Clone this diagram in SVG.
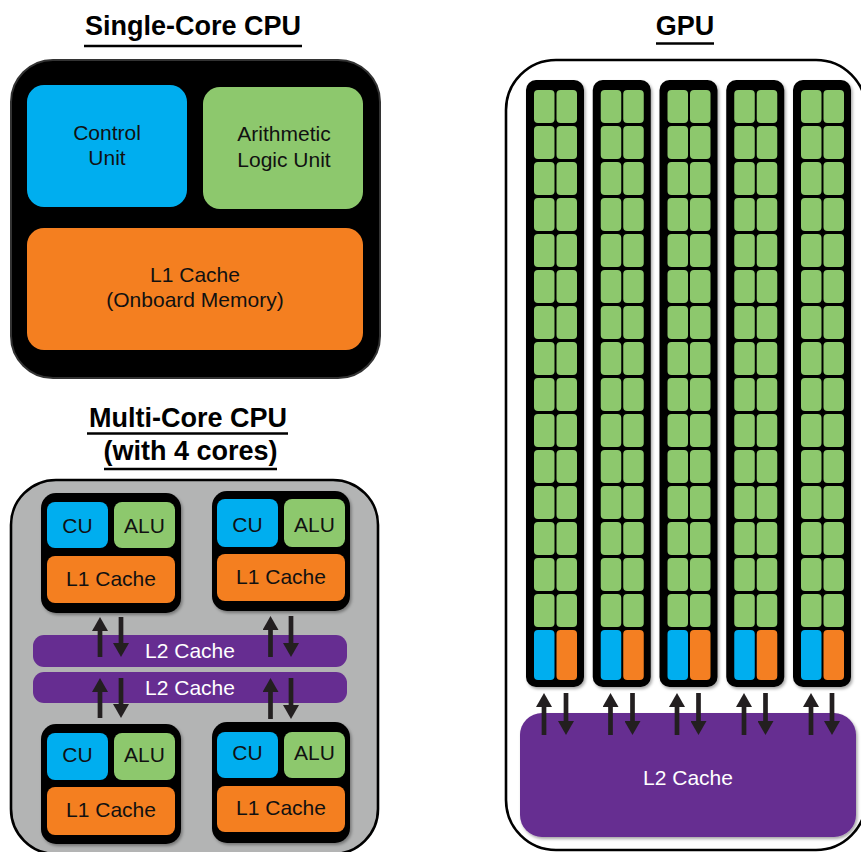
<svg xmlns="http://www.w3.org/2000/svg" xmlns:xlink="http://www.w3.org/1999/xlink" width="861" height="852" viewBox="0 0 861 852">
<style>
.title{font-family:"Liberation Sans",Arial,sans-serif;font-weight:bold;font-size:27px;fill:#000;text-anchor:middle}
.lbl{font-family:"Liberation Sans",Arial,sans-serif;font-size:21px;fill:#111;text-anchor:middle}
.wl{font-family:"Liberation Sans",Arial,sans-serif;font-size:21px;fill:#fff;text-anchor:middle}
.ul{stroke:#000;stroke-width:2.6}
.blk{fill:#000}
.cu{fill:#00AEEF}
.alu{fill:#8DC86D}
.l1{fill:#F47F20}
.l2{fill:#662D91}
.arr{stroke:#231F20;stroke-width:4.7;fill:none;marker-end:url(#ah)}
</style>
<defs>
<marker id="ah" markerUnits="userSpaceOnUse" markerWidth="14" markerHeight="16" viewBox="0 0 14 16" refX="0" refY="8" orient="auto">
<path d="M0,0 L14,8 L0,16 z" fill="#231F20"/>
</marker>
<filter id="sh" x="-10%" y="-10%" width="130%" height="130%">
<feDropShadow dx="1.5" dy="2" stdDeviation="1.5" flood-color="#000" flood-opacity="0.35"/>
</filter>
<g id="gcol">
<rect x="0" y="0" width="58" height="607" rx="10" class="blk"/>
<g class="alu">
<rect x="8" y="10" width="20.5" height="33" rx="4"/><rect x="30.5" y="10" width="20.5" height="33" rx="4"/>
<rect x="8" y="46" width="20.5" height="33" rx="4"/><rect x="30.5" y="46" width="20.5" height="33" rx="4"/>
<rect x="8" y="82" width="20.5" height="33" rx="4"/><rect x="30.5" y="82" width="20.5" height="33" rx="4"/>
<rect x="8" y="118" width="20.5" height="33" rx="4"/><rect x="30.5" y="118" width="20.5" height="33" rx="4"/>
<rect x="8" y="154" width="20.5" height="33" rx="4"/><rect x="30.5" y="154" width="20.5" height="33" rx="4"/>
<rect x="8" y="190" width="20.5" height="33" rx="4"/><rect x="30.5" y="190" width="20.5" height="33" rx="4"/>
<rect x="8" y="226" width="20.5" height="33" rx="4"/><rect x="30.5" y="226" width="20.5" height="33" rx="4"/>
<rect x="8" y="262" width="20.5" height="33" rx="4"/><rect x="30.5" y="262" width="20.5" height="33" rx="4"/>
<rect x="8" y="298" width="20.5" height="33" rx="4"/><rect x="30.5" y="298" width="20.5" height="33" rx="4"/>
<rect x="8" y="334" width="20.5" height="33" rx="4"/><rect x="30.5" y="334" width="20.5" height="33" rx="4"/>
<rect x="8" y="370" width="20.5" height="33" rx="4"/><rect x="30.5" y="370" width="20.5" height="33" rx="4"/>
<rect x="8" y="406" width="20.5" height="33" rx="4"/><rect x="30.5" y="406" width="20.5" height="33" rx="4"/>
<rect x="8" y="442" width="20.5" height="33" rx="4"/><rect x="30.5" y="442" width="20.5" height="33" rx="4"/>
<rect x="8" y="478" width="20.5" height="33" rx="4"/><rect x="30.5" y="478" width="20.5" height="33" rx="4"/>
<rect x="8" y="514" width="20.5" height="33" rx="4"/><rect x="30.5" y="514" width="20.5" height="33" rx="4"/>
</g>
<rect x="8" y="550" width="20.5" height="50" rx="4" class="cu"/>
<rect x="30.5" y="550" width="20.5" height="50" rx="4" class="l1"/>
</g>
</defs>
<rect width="861" height="852" fill="#fff"/>

<!-- Titles -->
<g id="titles">
<text class="title" x="193" y="35">Single-Core CPU</text>
<line class="ul" x1="84" y1="46" x2="302" y2="46"/>
<text class="title" x="188" y="427">Multi-Core CPU</text>
<line class="ul" x1="87" y1="433.5" x2="288" y2="433.5"/>
<text class="title" x="190.5" y="460">(with 4 cores)</text>
<line class="ul" x1="104" y1="469" x2="277" y2="469"/>
<text class="title" x="685" y="35">GPU</text>
<line class="ul" x1="656" y1="43.5" x2="714" y2="43.5"/>
</g>

<!-- Single-core CPU -->
<g id="single-core">
<rect x="11" y="60" width="369" height="318" rx="42" fill="#000" stroke="#333" stroke-width="2"/>
<g id="sc-control-unit">
<rect x="27" y="85" width="160" height="122" rx="17" class="cu"/>
<text class="lbl" x="107" y="140">Control</text>
<text class="lbl" x="107" y="165">Unit</text>
</g>
<g id="sc-alu">
<rect x="203" y="87" width="160" height="122" rx="17" class="alu"/>
<text class="lbl" x="284" y="141">Arithmetic</text>
<text class="lbl" x="284" y="167">Logic Unit</text>
</g>
<g id="sc-l1">
<rect x="27" y="228" width="336" height="122" rx="17" class="l1"/>
<text class="lbl" x="195" y="282">L1 Cache</text>
<text class="lbl" x="195" y="307">(Onboard Memory)</text>
</g>
</g>

<!-- Multi-core CPU -->
<g id="multi-core">
<rect x="11" y="480" width="367" height="374" rx="45" fill="#B3B4B4" stroke="#000" stroke-width="2.6"/>
<g id="mc-core-tl">
<rect x="41" y="493" width="140" height="120" rx="15" class="blk" filter="url(#sh)"/>
<rect x="47" y="502" width="61" height="46" rx="8" class="cu"/>
<rect x="114" y="502" width="61" height="46" rx="8" class="alu"/>
<rect x="47" y="556" width="128" height="47" rx="8" class="l1"/>
<text class="lbl" x="77.5" y="533">CU</text>
<text class="lbl" x="144.5" y="533">ALU</text>
<text class="lbl" x="111" y="586">L1 Cache</text>
</g>
<g id="mc-core-tr">
<rect x="212" y="491" width="138" height="120" rx="15" class="blk" filter="url(#sh)"/>
<rect x="217" y="499" width="61" height="48" rx="8" class="cu"/>
<rect x="284" y="499" width="61" height="48" rx="8" class="alu"/>
<rect x="217" y="554" width="128" height="47" rx="8" class="l1"/>
<text class="lbl" x="247.5" y="532">CU</text>
<text class="lbl" x="314.5" y="532">ALU</text>
<text class="lbl" x="281" y="584">L1 Cache</text>
</g>
<g id="mc-l2-top">
<rect x="33" y="635" width="314" height="32" rx="11" class="l2"/>
<text class="wl" x="190" y="658">L2 Cache</text>
</g>
<g id="mc-l2-bottom">
<rect x="33" y="672" width="314" height="31" rx="11" class="l2"/>
<text class="wl" x="190" y="695">L2 Cache</text>
</g>
<g id="mc-core-bl">
<rect x="41" y="724" width="140" height="120" rx="15" class="blk" filter="url(#sh)"/>
<rect x="47" y="733" width="61" height="47" rx="8" class="cu"/>
<rect x="114" y="733" width="61" height="47" rx="8" class="alu"/>
<rect x="47" y="787" width="128" height="48" rx="8" class="l1"/>
<text class="lbl" x="77.5" y="762">CU</text>
<text class="lbl" x="144.5" y="762">ALU</text>
<text class="lbl" x="111" y="817">L1 Cache</text>
</g>
<g id="mc-core-br">
<rect x="212" y="722" width="138" height="121" rx="15" class="blk" filter="url(#sh)"/>
<rect x="217" y="732" width="61" height="46" rx="8" class="cu"/>
<rect x="284" y="732" width="61" height="46" rx="8" class="alu"/>
<rect x="217" y="786" width="128" height="46" rx="8" class="l1"/>
<text class="lbl" x="247.5" y="760">CU</text>
<text class="lbl" x="314.5" y="760">ALU</text>
<text class="lbl" x="281" y="815">L1 Cache</text>
</g>
</g>

<!-- GPU -->
<g id="gpu">
<rect x="506" y="60" width="360" height="790" rx="50" fill="#fff" stroke="#000" stroke-width="2.6"/>
<g id="gpu-col-1"><use xlink:href="#gcol" href="#gcol" x="526" y="80" filter="url(#sh)"/></g>
<g id="gpu-col-2"><use xlink:href="#gcol" href="#gcol" x="592.75" y="80" filter="url(#sh)"/></g>
<g id="gpu-col-3"><use xlink:href="#gcol" href="#gcol" x="659.5" y="80" filter="url(#sh)"/></g>
<g id="gpu-col-4"><use xlink:href="#gcol" href="#gcol" x="726.25" y="80" filter="url(#sh)"/></g>
<g id="gpu-col-5"><use xlink:href="#gcol" href="#gcol" x="793" y="80" filter="url(#sh)"/></g>
<g id="gpu-l2">
<rect x="520" y="713" width="336" height="124" rx="22" class="l2" filter="url(#sh)"/>
<text class="wl" x="688" y="785">L2 Cache</text>
</g>
</g>

<!-- Connectors -->
<g id="connectors">
<path class="arr" d="M100,657 V631"/>
<path class="arr" d="M121,617 V643"/>
<path class="arr" d="M270.5,657 V630"/>
<path class="arr" d="M291,616 V643"/>
<path class="arr" d="M100,718 V692"/>
<path class="arr" d="M121,678 V704"/>
<path class="arr" d="M270.5,719 V692"/>
<path class="arr" d="M291,678 V705"/>
<path class="arr" d="M544,735 V707"/>
<path class="arr" d="M566,693 V721"/>
<path class="arr" d="M610.5,735 V707"/>
<path class="arr" d="M632.5,693 V721"/>
<path class="arr" d="M677,735 V707"/>
<path class="arr" d="M698.5,693 V721"/>
<path class="arr" d="M744,735 V707"/>
<path class="arr" d="M765.5,693 V721"/>
<path class="arr" d="M811,735 V707"/>
<path class="arr" d="M832,693 V721"/>
</g>
</svg>
